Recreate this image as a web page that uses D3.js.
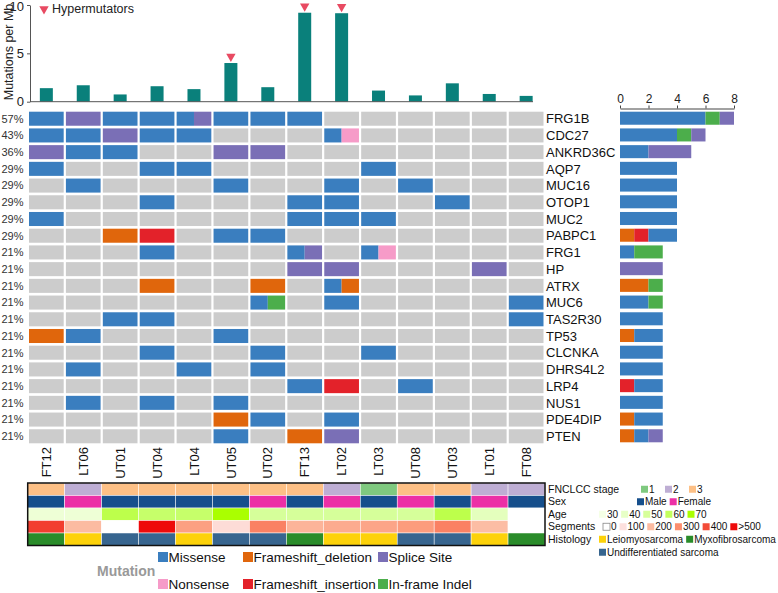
<!DOCTYPE html>
<html>
<head>
<meta charset="utf-8">
<script src="https://cdn.jsdelivr.net/npm/d3@7"></script>
<style>
  body { margin: 0; background: #fff; }
  svg { font-family: "Liberation Sans", Arial, sans-serif; }
</style>
</head>
<body>
<div id="chart"></div>
<script>
// samples (columns) and genes (rows)
var samples = ["FT12","LT06","UT01","UT04","LT04","UT05","UT02","FT13","LT02","LT03","UT08","UT03","LT01","FT08"];
var genes = ["FRG1B","CDC27","ANKRD36C","AQP7","MUC16","OTOP1","MUC2","PABPC1","FRG1","HP",
             "ATRX","MUC6","TAS2R30","TP53","CLCNKA","DHRS4L2","LRP4","NUS1","PDE4DIP","PTEN"];

// mutations per Mb (top bars)
var mutPerMb = [1.4, 1.7, 0.75, 1.6, 1.3, 4.0, 1.5, 9.2, 9.15, 1.15, 0.65, 1.9, 0.8, 0.6];
var hypermutators = ["UT05","FT13","LT02"];

// mutation codes
var mutTypes = ["Missense","Frameshift_deletion","Splice Site","Nonsense","Frameshift_insertion","In-frame Indel"];
var mutCodes = {M:"Missense", D:"Frameshift_deletion", S:"Splice Site", N:"Nonsense", I:"Frameshift_insertion", F:"In-frame Indel"};
var mutColors = ["#3a7ebf","#e0660c","#7a6fb6","#f69bc8","#e3222a","#4cae4b"];

// one row per gene, one entry per sample ("" = no mutation)
var mutMatrix = [
  ["M","S","M","M","MS","M","M","M","","","","","",""],
  ["M","M","S","M","M","","","","MN","","","","",""],
  ["S","M","M","","","S","S","","","","","","",""],
  ["M","","","M","M","","","","","M","","","",""],
  ["","M","","","","M","","","M","","M","","",""],
  ["","","","M","","","","M","M","","","M","",""],
  ["M","","","","","","","M","M","M","","","",""],
  ["","","D","I","","M","M","","","","","","",""],
  ["","","","M","","","","MS","","MN","","","",""],
  ["","","","","","","","S","S","","","","S",""],
  ["","","","D","","","D","","MD","","","","",""],
  ["","","","","","","MF","","M","","","","","M"],
  ["","","M","M","","","","","","","","","","M"],
  ["D","M","","","","M","","","","","","","",""],
  ["","","","M","","","M","","","M","","","",""],
  ["","M","","","M","","M","","","","","","",""],
  ["","","","","","","","M","I","","M","","",""],
  ["","M","","M","","M","","","","","","","",""],
  ["","","","","","D","M","","M","","","","",""],
  ["","","","","","M","","D","S","","","","",""]
];

// right bar segments per gene [code, count]
var geneBars = [
  [["M",6],["F",1],["S",1]],
  [["M",4],["F",1],["S",1]],
  [["M",2],["S",3]],
  [["M",4]],
  [["M",4]],
  [["M",4]],
  [["M",4]],
  [["D",1],["I",1],["M",2]],
  [["M",1],["F",2]],
  [["S",3]],
  [["D",2],["F",1]],
  [["M",2],["F",1]],
  [["M",3]],
  [["D",1],["M",2]],
  [["M",3]],
  [["M",3]],
  [["I",1],["M",2]],
  [["M",3]],
  [["D",1],["M",2]],
  [["D",1],["M",1],["S",1]]
];

// clinical annotation tracks
var stage = [3,2,3,3,3,3,3,3,2,1,3,3,2,2];
var sex = ["Male","Female","Male","Male","Male","Male","Female","Male","Female","Male","Female","Male","Female","Male"];
var age = [35,35,62,58,58,70,50,50,50,50,50,62,42,null];
var segments = [420,200,0,530,260,110,320,215,235,250,270,320,195,0];
var histology = ["Myxofibrosarcoma","Leiomyosarcoma","Undifferentiated sarcoma","Undifferentiated sarcoma","Leiomyosarcoma",
  "Undifferentiated sarcoma","Undifferentiated sarcoma","Myxofibrosarcoma","Leiomyosarcoma","Leiomyosarcoma",
  "Undifferentiated sarcoma","Undifferentiated sarcoma","Leiomyosarcoma","Myxofibrosarcoma"];

var stageLevels = [1,2,3], stageColors = ["#7fc97f","#beaed4","#fdc086"];
var sexLevels = ["Male","Female"], sexColors = ["#164f8c","#ec2fa6"];
var ageTicks = [30,40,50,60,70], ageColors = ["#f5ffe6","#e7ffc6","#d6ff9a","#c2ff5e","#aaff00"];
var segTicks = [0,100,200,300,400,500], segLabels = ["0","100","200","300","400",">500"];
var segColors = ["#ffffff","#fde0dd","#fcbba1","#fc8e6e","#f34b38","#ee0a0a"];
var histLevels = ["Leiomyosarcoma","Myxofibrosarcoma","Undifferentiated sarcoma"];
var histColors = ["#fdd20a","#2a8c2a","#37658f"];

var W = 778, H = 593;
var svg = d3.select("#chart").append("svg").attr("width", W).attr("height", H);

var x = d3.scaleBand().domain(samples).range([29, 543.5]).paddingInner(0.06);
var y = d3.scaleBand().domain(genes).range([111.7, 443.3]).paddingInner(0.16);
var mutColor = d3.scaleOrdinal().domain(mutTypes).range(mutColors);

// ---- top bar chart
var yTop = d3.scaleLinear().domain([0, 10]).range([101.7, 5]);
var topG = svg.append("g");
topG.selectAll("rect.tmb").data(samples).enter().append("rect")
  .attr("class", "tmb")
  .attr("x", function(d){ return x(d) + x.bandwidth()/2 - 6.5; })
  .attr("width", 13)
  .attr("y", function(d, i){ return yTop(mutPerMb[i]); })
  .attr("height", function(d, i){ return yTop(0) - yTop(mutPerMb[i]); })
  .attr("fill", "#0a807b");

topG.append("line")
  .attr("x1", 30).attr("x2", 533)
  .attr("y1", yTop(0)).attr("y2", yTop(0))
  .attr("stroke", "#555").attr("stroke-width", 1);

var yAxis = topG.append("g")
  .attr("transform", "translate(30,0)")
  .call(d3.axisLeft(yTop).tickValues([0,5,10]).tickSize(3).tickSizeOuter(0));
yAxis.selectAll("text").style("font-size", "13px").attr("fill", "#222");
yAxis.selectAll("path, line").attr("stroke", "#555");
yAxis.selectAll(".tick text").filter(function(d){ return d === 10; }).attr("dy", "0.45em");

topG.append("text")
  .attr("transform", "translate(9,52) rotate(-90)")
  .attr("text-anchor", "middle")
  .attr("dy", "0.35em")
  .style("font-size", "12.5px")
  .attr("fill", "#222")
  .text("Mutations per Mb");

var tri = d3.symbol().type(d3.symbolTriangle).size(38);
topG.selectAll("path.hyper").data(hypermutators).enter().append("path")
  .attr("class", "hyper")
  .attr("d", tri)
  .attr("transform", function(d){
    var i = samples.indexOf(d);
    return "translate(" + (x(d) + x.bandwidth()/2) + "," + (yTop(mutPerMb[i]) - 6.5) + ") rotate(180)";
  })
  .attr("fill", "#e84a62");

topG.append("path").attr("d", tri).attr("transform", "translate(44,9) rotate(180)").attr("fill", "#e84a62");
topG.append("text").attr("x", 52).attr("y", 9).attr("dy", "0.35em")
  .style("font-size", "12.5px").attr("fill", "#222").text("Hypermutators");

// ---- oncoprint grid
var grid = svg.append("g");
genes.forEach(function(g, gi){
  samples.forEach(function(s, si){
    var code = mutMatrix[gi][si];
    if (!code) {
      grid.append("rect")
        .attr("x", x(s)).attr("y", y(g))
        .attr("width", x.bandwidth()).attr("height", y.bandwidth())
        .attr("fill", "#cccccc");
    } else {
      var parts = code.split("");
      var w = x.bandwidth() / parts.length;
      parts.forEach(function(c, k){
        grid.append("rect")
          .attr("x", x(s) + k*w).attr("y", y(g))
          .attr("width", w).attr("height", y.bandwidth())
          .attr("fill", mutColor(mutCodes[c]));
      });
    }
  });
});

// percentages
grid.selectAll("text.pct").data(genes).enter().append("text")
  .attr("class", "pct")
  .attr("x", 23.5)
  .attr("y", function(d){ return y(d) + y.bandwidth()/2; })
  .attr("dy", "0.35em")
  .attr("text-anchor", "end")
  .style("font-size", "11px")
  .attr("fill", "#333")
  .text(function(d, i){
    var n = mutMatrix[i].filter(function(c){ return c !== ""; }).length;
    return Math.round(n / samples.length * 100) + "%";
  });

// gene names
grid.selectAll("text.gene").data(genes).enter().append("text")
  .attr("class", "gene")
  .attr("x", 546)
  .attr("y", function(d){ return y(d) + y.bandwidth()/2; })
  .attr("dy", "0.36em")
  .style("font-size", "13px")
  .attr("fill", "#111")
  .text(function(d){ return d; });

// sample names
grid.selectAll("text.sample").data(samples).enter().append("text")
  .attr("class", "sample")
  .attr("transform", function(d){ return "translate(" + (x(d) + x.bandwidth()/2) + ",447) rotate(-90)"; })
  .attr("dy", "0.36em")
  .attr("text-anchor", "end")
  .style("font-size", "13px")
  .attr("fill", "#111")
  .text(function(d){ return d; });

// ---- right bar chart
var xr = d3.scaleLinear().domain([0, 8]).range([620, 734]);
var right = svg.append("g");
genes.forEach(function(g, gi){
  var acc = 0;
  geneBars[gi].forEach(function(seg){
    right.append("rect")
      .attr("x", xr(acc)).attr("y", y(g))
      .attr("width", xr(acc + seg[1]) - xr(acc))
      .attr("height", y.bandwidth() - 1)
      .attr("fill", mutColor(mutCodes[seg[0]]));
    acc += seg[1];
  });
});
var rAxis = right.append("g")
  .attr("transform", "translate(0,108.5)")
  .call(d3.axisTop(xr).tickValues([0,2,4,6,8]).tickSize(3).tickSizeOuter(0));
rAxis.selectAll("text").style("font-size", "12px").attr("fill", "#222");
rAxis.selectAll("path, line").attr("stroke", "#444");

// ---- annotation tracks
var xa = d3.scaleBand().domain(samples).range([27.7, 545]);
var tracks = ["FNCLCC stage","Sex","Age","Segments","Histology"];
var ya = d3.scaleBand().domain(tracks).range([483, 545.5]);

var stageColor = d3.scaleOrdinal().domain(stageLevels).range(stageColors);
var sexColor = d3.scaleOrdinal().domain(sexLevels).range(sexColors);
var ageColor = d3.scaleLinear().domain(ageTicks).range(ageColors).clamp(true);
var segColor = d3.scaleLinear().domain(segTicks).range(segColors).clamp(true);
var histColor = d3.scaleOrdinal().domain(histLevels).range(histColors);

var trackFill = [
  function(i){ return stageColor(stage[i]); },
  function(i){ return sexColor(sex[i]); },
  function(i){ return age[i] == null ? "#ffffff" : ageColor(age[i]); },
  function(i){ return segColor(segments[i]); },
  function(i){ return histColor(histology[i]); }
];

var ann = svg.append("g");
tracks.forEach(function(t, ti){
  samples.forEach(function(s, si){
    ann.append("rect")
      .attr("x", xa(s)).attr("y", ya(t))
      .attr("width", xa.bandwidth()).attr("height", ya.bandwidth())
      .attr("fill", trackFill[ti](si))
      .attr("stroke", "#fff").attr("stroke-width", 0.5);
  });
});
ann.append("rect")
  .attr("x", 27.7).attr("y", 483)
  .attr("width", 545 - 27.7).attr("height", 545.5 - 483)
  .attr("fill", "none").attr("stroke", "#111").attr("stroke-width", 1.5);

// annotation legend
var leg = svg.append("g").style("font-size", "10px").attr("fill", "#111");
function legendRow(yc, x0, items, step) {
  var cx = x0;
  items.forEach(function(it){
    leg.append("rect")
      .attr("x", cx).attr("y", yc - 3.5).attr("width", 7).attr("height", 7)
      .attr("fill", it.color)
      .attr("stroke", it.outline ? "#888" : "none").attr("stroke-width", 0.8);
    var t = leg.append("text").attr("x", cx + 8).attr("y", yc).attr("dy", "0.35em").text(it.label);
    cx = step ? cx + step : cx + 8 + t.node().getComputedTextLength() + 3;
  });
}
function yc(t){ return ya(t) + ya.bandwidth()/2; }
tracks.forEach(function(t){
  leg.append("text").attr("x", 548).attr("y", yc(t)).attr("dy", "0.35em")
    .style("font-size", "10.5px").text(t);
});
legendRow(yc("FNCLCC stage"), 641, stageLevels.map(function(d, i){ return {label: String(d), color: stageColors[i]}; }), 24);
legendRow(yc("Sex"), 637, sexLevels.map(function(d, i){ return {label: d, color: sexColors[i]}; }));
legendRow(yc("Age"), 599, ageTicks.map(function(d, i){ return {label: String(d), color: ageColors[i]}; }));
legendRow(yc("Segments"), 603, segTicks.map(function(d, i){ return {label: segLabels[i], color: segColors[i], outline: i === 0}; }));
legendRow(yc("Histology"), 599, histLevels.slice(0, 2).map(function(d, i){ return {label: d, color: histColors[i]}; }));
legendRow(yc("Histology") + 13, 599, [{label: histLevels[2], color: histColors[2]}]);

// ---- mutation legend
var mleg = svg.append("g").style("font-size", "13.5px").attr("fill", "#111");
mleg.append("text").attr("x", 97).attr("y", 571).attr("dy", "0.35em")
  .style("font-weight", "bold").attr("fill", "#999").style("font-size", "14px").text("Mutation");
var mlegCols = [158, 243, 378];
var mlegOrder = ["Missense","Frameshift_deletion","Splice Site","Nonsense","Frameshift_insertion","In-frame Indel"];
mlegOrder.forEach(function(m, i){
  var cx = mlegCols[i % 3], cy = i < 3 ? 557 : 584;
  mleg.append("rect").attr("x", cx).attr("y", cy - 5).attr("width", 10).attr("height", 10).attr("fill", mutColor(m));
  mleg.append("text").attr("x", cx + 10.5).attr("y", cy).attr("dy", "0.35em").text(m);
});
</script>
</body>
</html>
